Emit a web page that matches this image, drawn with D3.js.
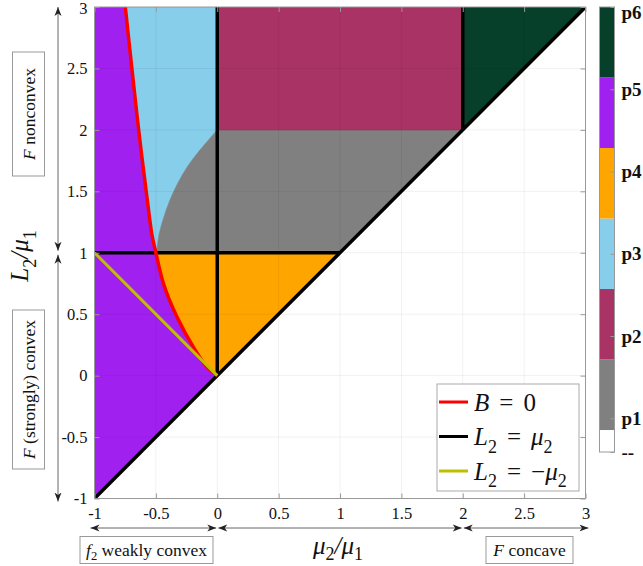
<!DOCTYPE html>
<html>
<head>
<meta charset="utf-8">
<script src="https://cdn.jsdelivr.net/npm/d3@7/dist/d3.min.js"></script>
<style>
body { margin: 0; background: #fff; }
text { font-family: "Liberation Serif", "Times New Roman", serif; }
</style>
</head>
<body>
<svg id="chart" width="643" height="566"></svg>
<script>
// axis ticks
var xTicks = [-1, -0.5, 0, 0.5, 1, 1.5, 2, 2.5, 3];
var yTicks = [-1, -0.5, 0, 0.5, 1, 1.5, 2, 2.5, 3];

// B = 0 curve (mu2/mu1, L2/mu1)
var bZeroLow = [[0, 0], [-0.086, 0.073], [-0.181, 0.209], [-0.33, 0.481], [-0.439, 0.752], [-0.5, 1]];
var bZeroHigh = [[-0.5, 1], [-0.534, 1.159], [-0.57, 1.43], [-0.637, 1.972], [-0.697, 2.514], [-0.749, 3]];
// edge between the p3 and p1 zones
var greyEdge = [[-0.5, 1], [-0.493, 1.023], [-0.472, 1.159], [-0.434, 1.294], [-0.385, 1.43], [-0.322, 1.565], [-0.244, 1.7], [-0.141, 1.836], [0, 2]];

// straight lines
var blackLines = [[[-1, 1], [1, 1]], [[0, 0], [0, 3]], [[2, 2], [2, 3]], [[-1, -1], [3, 3]]];
var yellowLine = [[-1, 1], [0, 0]];

// colorbar
var cbColors = ["#ffffff", "#808080", "#aa3366", "#87ceeb", "#ffa500", "#a020f0", "#063f2a"];
var cbLabels = ["--", "p1", "p2", "p3", "p4", "p5", "p6"];
var cbTicks = [0.59, 1, 2, 3, 4, 5, 6];
var cbLimits = [0.59, 6];

var svg = d3.select("#chart");
var x = d3.scaleLinear().domain([-1, 3]).range([94.5, 585.5]);
var y = d3.scaleLinear().domain([-1, 3]).range([498.5, 7]);
var axisCol = "#999";

svg.append("defs").append("clipPath").attr("id", "plotclip")
  .append("rect").attr("x", x(-1)).attr("y", y(3))
  .attr("width", x(3) - x(-1)).attr("height", y(-1) - y(3));

var straight = d3.line().x(d => x(d[0])).y(d => y(d[1]));
var smooth = d3.line().x(d => x(d[0])).y(d => y(d[1])).curve(d3.curveCatmullRom.alpha(0.5));

// glue straight and curved pieces into one closed path
function zone(parts) {
  var d = "";
  parts.forEach(function(p, i) {
    var s = (p.c ? smooth : straight)(p.pts);
    d += i === 0 ? s : "L" + s.slice(1);
  });
  return d + "Z";
}

var rev = a => a.slice().reverse();
var zones = [
  {c: 5, parts: [{pts: [[-1, 3], [-1, -1], [0, 0]]}, {pts: bZeroLow, c: 1}, {pts: bZeroHigh, c: 1}]},
  {c: 4, parts: [{pts: [[-0.5, 1], [1, 1], [0, 0]]}, {pts: bZeroLow, c: 1}]},
  {c: 3, parts: [{pts: bZeroHigh, c: 1}, {pts: [[0, 3], [0, 2]]}, {pts: rev(greyEdge), c: 1}]},
  {c: 1, parts: [{pts: greyEdge, c: 1}, {pts: [[2, 2], [1, 1]]}]},
  {c: 2, parts: [{pts: [[0, 2], [2, 2], [2, 3], [0, 3]]}]},
  {c: 6, parts: [{pts: [[2, 2], [3, 3], [2, 3]]}]}
];

var plot = svg.append("g").attr("clip-path", "url(#plotclip)");
plot.selectAll("path.zone").data(zones).enter().append("path")
  .attr("class", "zone")
  .attr("d", d => zone(d.parts))
  .attr("fill", d => cbColors[d.c])
  .attr("stroke", d => cbColors[d.c]).attr("stroke-width", 0.6);

// faint grid on top
var grid = plot.append("g").attr("stroke", "#000").attr("stroke-opacity", 0.06).attr("stroke-width", 1);
grid.selectAll("line.gx").data(xTicks).enter().append("line")
  .attr("x1", d => x(d)).attr("x2", d => x(d)).attr("y1", y(-1)).attr("y2", y(3));
grid.selectAll("line.gy").data(yTicks).enter().append("line")
  .attr("y1", d => y(d)).attr("y2", d => y(d)).attr("x1", x(-1)).attr("x2", x(3));

plot.selectAll("path.blk").data(blackLines).enter().append("path")
  .attr("d", straight).attr("fill", "none").attr("stroke", "#000").attr("stroke-width", 3.5);
plot.append("path").attr("d", smooth(bZeroLow.concat(bZeroHigh.slice(1))))
  .attr("fill", "none").attr("stroke", "#ff0000").attr("stroke-width", 3.5);
plot.append("path").attr("d", straight(yellowLine))
  .attr("fill", "none").attr("stroke", "#bfbf00").attr("stroke-width", 3);

// axes, MATLAB style box with inward ticks
svg.append("rect").attr("x", x(-1)).attr("y", y(3))
  .attr("width", x(3) - x(-1)).attr("height", y(-1) - y(3))
  .attr("fill", "none").attr("stroke", axisCol);

function styleAxis(g) {
  g.select(".domain").remove();
  g.selectAll(".tick line").attr("stroke", axisCol);
  g.selectAll(".tick text").attr("fill", "#111").style("font-size", "16.5px")
    .style("font-family", "'Liberation Serif', serif");
}
svg.append("g").attr("transform", "translate(0," + y(-1) + ")")
  .call(d3.axisBottom(x).tickValues(xTicks).tickFormat(d => String(d)).tickSizeInner(-5).tickSizeOuter(0).tickPadding(9))
  .call(styleAxis);
svg.append("g").attr("transform", "translate(0," + y(3) + ")")
  .call(d3.axisTop(x).tickValues(xTicks).tickFormat("").tickSizeInner(-5).tickSizeOuter(0))
  .call(styleAxis);
svg.append("g").attr("transform", "translate(" + x(-1) + ",0)")
  .call(d3.axisLeft(y).tickValues(yTicks).tickFormat(d => String(d)).tickSizeInner(-5).tickSizeOuter(0).tickPadding(7))
  .call(styleAxis)
  .selectAll(".tick text").attr("dy", d => d === 3 ? "0.42em" : "0.32em");
svg.append("g").attr("transform", "translate(" + x(3) + ",0)")
  .call(d3.axisRight(y).tickValues(yTicks).tickFormat("").tickSizeInner(-5).tickSizeOuter(0))
  .call(styleAxis);

// math text helper: [string, kind] i = italic, r = roman, s = subscript, o = relation (TeX spacing)
function mathText(t, parts, size, sub) {
  var shift = 0, pad = 0, sb = (sub || 0.3) * size;
  parts.forEach(function(p) {
    var ts = t.append("tspan").text(p[0]);
    var want = p[1] === "s" ? sb : 0;
    if (want !== shift) { ts.attr("dy", want - shift); shift = want; }
    var dx = pad + (p[1] === "o" ? 0.4 * size : 0);
    if (dx) ts.attr("dx", dx);
    pad = p[1] === "o" ? 0.4 * size : 0;
    ts.style("font-style", p[1] === "i" ? "italic" : "normal")
      .style("font-size", (p[1] === "s" ? size * 0.72 : size) + "px");
  });
  return t;
}

mathText(svg.append("text").attr("x", 338).attr("y", 554).attr("text-anchor", "middle").attr("fill", "#111"),
  [["\u03bc", "i"], ["2", "s"], ["/\u03bc", "i"], ["1", "s"]], 25, 0.24);
mathText(svg.append("text").attr("transform", "translate(28,256) rotate(-90)").attr("text-anchor", "middle").attr("fill", "#111"),
  [["L", "i"], ["2", "s"], ["/\u03bc", "i"], ["1", "s"]], 25);

// colorbar
var cb = d3.scaleLinear().domain(cbLimits).range([452, 7]);
var step = 6 / cbColors.length;
svg.selectAll("rect.cb").data(cbColors).enter().append("rect")
  .attr("x", 599.5).attr("width", 15)
  .attr("y", (d, i) => cb((i + 1) * step))
  .attr("height", (d, i) => cb(Math.max(i * step, cbLimits[0])) - cb((i + 1) * step))
  .attr("fill", d => d);
svg.append("rect").attr("x", 599.5).attr("y", 7).attr("width", 15).attr("height", 445)
  .attr("fill", "none").attr("stroke", axisCol);
svg.append("g").attr("transform", "translate(614.5,0)")
  .call(d3.axisRight(cb).tickValues(cbTicks).tickFormat((d, i) => cbLabels[i]).tickSizeInner(-4).tickSizeOuter(0).tickPadding(7))
  .call(styleAxis)
  .selectAll(".tick text").style("font-size", "19px").style("font-weight", "bold").attr("fill", "#111")
  .attr("dy", (d, i) => i === cbTicks.length - 1 ? "0.62em" : "0.32em");

// legend
var legendItems = [
  {col: "#ff0000", parts: [["B", "i"], ["=", "o"], ["0", "r"]]},
  {col: "#000000", parts: [["L", "i"], ["2", "s"], ["=", "o"], ["\u03bc", "i"], ["2", "s"]]},
  {col: "#bfbf00", parts: [["L", "i"], ["2", "s"], ["=", "o"], ["\u2212", "r"], ["\u03bc", "i"], ["2", "s"]]}
];
svg.append("rect").attr("x", 437).attr("y", 384).attr("width", 142).attr("height", 107)
  .attr("fill", "#fff").attr("stroke", "#aaa");
legendItems.forEach(function(it, i) {
  var cy = 402 + i * 34.5;
  svg.append("line").attr("x1", 439).attr("x2", 468).attr("y1", cy).attr("y2", cy)
    .attr("stroke", it.col).attr("stroke-width", 3);
  mathText(svg.append("text").attr("x", 474).attr("y", cy + 8.5).attr("fill", "#111"), it.parts, 25);
});

// annotation arrows and boxes
var defs = svg.select("defs");
defs.append("marker").attr("id", "head").attr("viewBox", "-9 -4 10 8")
  .attr("refX", 0).attr("refY", 0).attr("markerWidth", 10).attr("markerHeight", 8)
  .attr("markerUnits", "userSpaceOnUse").attr("orient", "auto-start-reverse")
  .append("path").attr("d", "M0,0L-9,-3.5L-6.5,0L-9,3.5Z").attr("fill", "#222");

var arrows = [
  [58, y(3), 58, y(1) - 2], [58, y(1) + 2, 58, y(-1) + 3],
  [x(-1) - 4, 528, x(0) - 1, 528], [x(0) + 1, 528, x(2) - 1, 528], [x(2) + 1, 528, x(3) + 3, 528]
];
svg.selectAll("line.arr").data(arrows).enter().append("line")
  .attr("x1", d => d[0]).attr("y1", d => d[1]).attr("x2", d => d[2]).attr("y2", d => d[3])
  .attr("stroke", "#666").attr("stroke-width", 1)
  .attr("marker-start", "url(#head)").attr("marker-end", "url(#head)");

var boxes = [
  {x: 12.5, y: 52, w: 32, h: 124, rot: true, parts: [["F", "i"], [" nonconvex", "r"]]},
  {x: 12.5, y: 310, w: 32, h: 159, rot: true, parts: [["F", "i"], [" (strongly) convex", "r"]]},
  {x: 80, y: 536.5, w: 133, h: 27, rot: false, parts: [["f", "i"], ["2", "s"], [" weakly convex", "r"]]},
  {x: 486, y: 536.5, w: 87, h: 27, rot: false, parts: [["F", "i"], [" concave", "r"]]}
];
boxes.forEach(function(b) {
  svg.append("rect").attr("x", b.x).attr("y", b.y).attr("width", b.w).attr("height", b.h)
    .attr("fill", "#fff").attr("stroke", "#999");
  var cx = b.x + b.w / 2, cy = b.y + b.h / 2;
  var t = svg.append("text").attr("text-anchor", "middle").attr("fill", "#111")
    .attr("transform", b.rot ? "translate(" + (cx + 6) + "," + cy + ") rotate(-90)" : "translate(" + cx + "," + (cy + 6) + ")");
  mathText(t, b.parts, 17.5, 0.2);
});
</script>
</body>
</html>
